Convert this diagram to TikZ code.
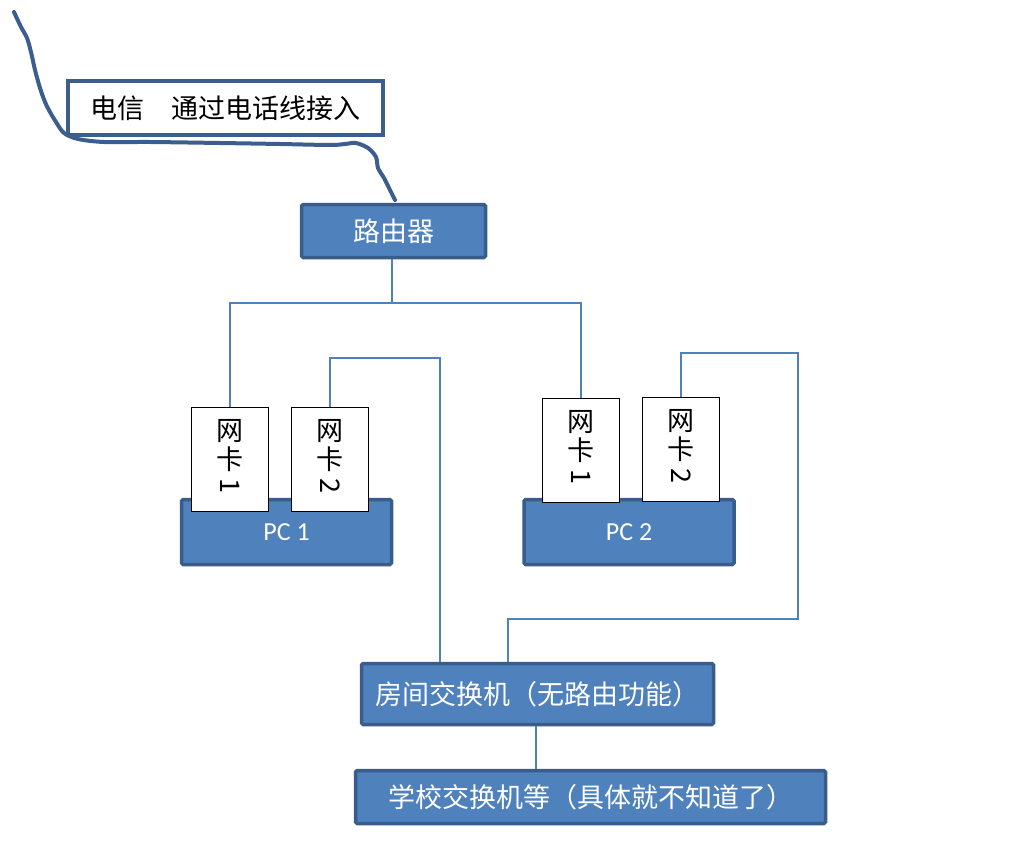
\documentclass[tikz,border=0pt]{standalone}
\usepackage{fontspec}
\newfontfamily\cjk{Noto Sans CJK SC}
\newfontfamily\lat{Carlito}
\definecolor{boxfill}{HTML}{4F81BD}
\definecolor{boxedge}{HTML}{385D8A}
\definecolor{wire}{HTML}{3B5E8E}
\newcommand{\netcard}[4]{%
  \node[cardbox] (#1) at (#2,#3) {};
  \node[cardtext] (#1-a) at ([yshift=-24pt]#1.north) {网};
  \node[cardtext] (#1-b) at ([yshift=-52pt]#1.north) {卡};
  \node[cardtext] (#1-c) at ([yshift=-80pt]#1.north) {\rotatebox[origin=c]{-90}{#4}};}
\begin{document}
\begin{tikzpicture}[x=1pt,y=-1pt,
  bluebox/.style={draw=boxedge,fill=boxfill,line width=3.5pt,rounded corners=1.5pt,inner sep=0pt,text=white,font=\cjk\fontsize{27}{30}\selectfont},
  pcbox/.style={bluebox,font=\lat\fontsize{26}{28}\selectfont},
  cardbox/.style={draw=black,fill=white,line width=1.1pt,inner sep=0pt,minimum width=77pt,minimum height=104pt},
  cardtext/.style={inner sep=0pt,font=\cjk\fontsize{27}{28}\selectfont},
  link/.style={draw=boxfill,line width=2pt}]
\useasboundingbox (0,0) rectangle (1033,843);
% telecom box
\node[draw=wire,fill=white,line width=4pt,inner sep=0pt,minimum width=315pt,minimum height=54pt,font=\cjk\fontsize{27}{30}\selectfont] (tel) at (225.5,108) {电信\hspace{1em}通过电话线接入};
% router
\node[bluebox,minimum width=184pt,minimum height=53pt] (router) at (393.5,231) {路由器};
% wavy telephone line
\coordinate (w0) at (14,12);
\coordinate (w1) at (395,200);
\draw[wire,line width=4pt,line cap=round,line join=round] plot[smooth,tension=0.5] coordinates {
 (w0) (21,27) (27,38) (31,52) (35,70) (40,88) (45,102) (50,112) (56,122) (64,133) (78,139) (104,142) (150,142) (220,143) (280,144) (330,145) (345,144) (356,143) (368,148) (376,157) (378,168) (384,178) (389,188) (w1)};
% PC boxes
\node[pcbox,minimum width=210pt,minimum height=65pt] (pc1) at (286.5,532) {PC 1};
\node[pcbox,minimum width=210pt,minimum height=65pt] (pc2) at (629,532) {PC 2};
% cards
\netcard{c11}{230}{459.5}{1}
\netcard{c12}{330}{459.5}{2}
\netcard{c21}{581}{450.5}{1}
\netcard{c22}{681}{449.5}{2}
% switches
\node[bluebox,minimum width=352pt,minimum height=61pt] (room) at (537.5,694) {房间交换机（无路由功能）};
\node[bluebox,minimum width=470pt,minimum height=53pt] (school) at (590.5,797) {学校交换机等（具体就不知道了）};
% connectors
\coordinate (j) at (392,303);
\coordinate (a1) at (440,358);
\coordinate (b1) at (798,353);
\coordinate (b2) at (508,619);
\draw[link] (router.south -| j) -- (j);
\draw[link] (c11.north) |- (j) -| (c21.north);
\draw[link] (c12.north) |- (a1) -- (a1 |- room.north);
\draw[link] (c22.north) |- (b1) |- (b2) -- (b2 |- room.north);
\draw[link] (room.south -| 536,0) -- (school.north -| 536,0);
\end{tikzpicture}
\end{document}
